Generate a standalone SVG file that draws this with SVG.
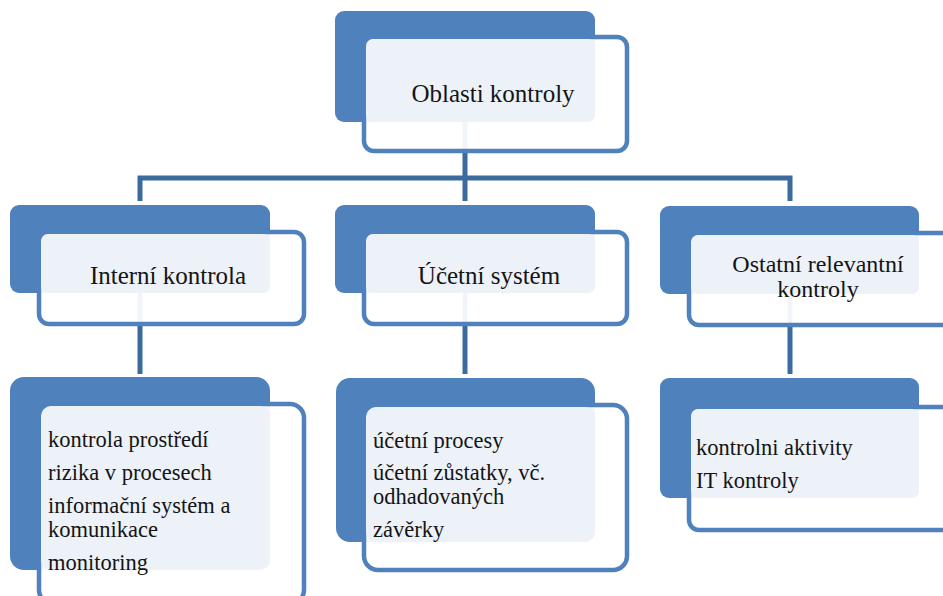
<svg xmlns="http://www.w3.org/2000/svg" width="943" height="596" viewBox="0 0 943 596">
  <style>
    .back { fill: #4F81BD; }
    .front { fill: #FFFFFF; fill-opacity: 0.93; stroke: #4F81BD; stroke-width: 4.5; }
    .pane { fill: #EDF2F9; }
    .link { fill: none; stroke: #3B6A9E; stroke-width: 5; }
    .t { font-family: "Liberation Serif", "DejaVu Serif", serif; font-size: 22.5px; fill: #141414; }
    .h { font-size: 25px; }
    .h2 { font-size: 24px; }
    .c { text-anchor: middle; }
  </style>

  <rect width="943" height="596" fill="#FFFFFF"/>

  <!-- connectors (drawn under the boxes) -->
  <g id="connectors">
    <path class="link" d="M465 122 V178 M140 178 H790 M140 175.5 V201 M465 178 V201 M790 175.5 V201"/>
    <path class="link" d="M140 293 V374"/>
    <path class="link" d="M465 293 V374"/>
    <path class="link" d="M790 294 V374"/>
  </g>

  <!-- root -->
  <g id="oblasti-kontroly">
    <rect class="back" x="335" y="11" width="260" height="111" rx="9"/>
    <rect class="front" x="364" y="37" width="263" height="114" rx="10"/>
    <rect class="pane" x="366" y="39" width="229" height="83" rx="7"/>
    <text class="t h c" x="493" y="102">Oblasti kontroly</text>
  </g>

  <!-- second level -->
  <g id="interni-kontrola">
    <rect class="back" x="10" y="205" width="260" height="88" rx="9"/>
    <rect class="front" x="39" y="232" width="265" height="92" rx="10"/>
    <rect class="pane" x="41" y="234" width="229" height="59" rx="7"/>
    <text class="t h c" x="168" y="284">Interní kontrola</text>
  </g>

  <g id="ucetni-system">
    <rect class="back" x="335" y="205" width="260" height="88" rx="9"/>
    <rect class="front" x="364" y="232" width="263" height="92" rx="10"/>
    <rect class="pane" x="366" y="234" width="229" height="59" rx="7"/>
    <text class="t h c" x="489" y="284">Účetní systém</text>
  </g>

  <g id="ostatni-kontroly">
    <rect class="back" x="660" y="206" width="259" height="88" rx="9"/>
    <rect class="front" x="689" y="233" width="265" height="92" rx="10"/>
    <rect class="pane" x="691" y="235" width="228" height="59" rx="7"/>
    <text class="t h2 c" x="818" y="272">Ostatní relevantní</text>
    <text class="t h2 c" x="818" y="297">kontroly</text>
  </g>

  <!-- third level -->
  <g id="interni-kontrola-detail">
    <rect class="back" x="10" y="377" width="260" height="193" rx="14"/>
    <rect class="front" x="39" y="404" width="265" height="200" rx="14"/>
    <rect class="pane" x="41" y="406" width="229" height="164" rx="10"/>
    <text class="t" x="48" y="447">kontrola prostředí</text>
    <text class="t" x="48" y="480">rizika v procesech</text>
    <text class="t" x="48" y="513">informační systém a</text>
    <text class="t" x="48" y="537">komunikace</text>
    <text class="t" x="48" y="570">monitoring</text>
  </g>

  <g id="ucetni-system-detail">
    <rect class="back" x="336" y="378" width="259" height="164" rx="14"/>
    <rect class="front" x="364" y="405" width="263" height="165" rx="14"/>
    <rect class="pane" x="366" y="407" width="229" height="135" rx="10"/>
    <text class="t" x="373" y="448">účetní procesy</text>
    <text class="t" x="373" y="480">účetní zůstatky, vč.</text>
    <text class="t" x="373" y="504">odhadovaných</text>
    <text class="t" x="373" y="537">závěrky</text>
  </g>

  <g id="ostatni-kontroly-detail">
    <rect class="back" x="660" y="378" width="259" height="120" rx="9"/>
    <rect class="front" x="689" y="407" width="265" height="123" rx="10"/>
    <rect class="pane" x="691" y="409" width="228" height="89" rx="7"/>
    <text class="t" x="696" y="455">kontrolni aktivity</text>
    <text class="t" x="696" y="488">IT kontroly</text>
  </g>
</svg>
